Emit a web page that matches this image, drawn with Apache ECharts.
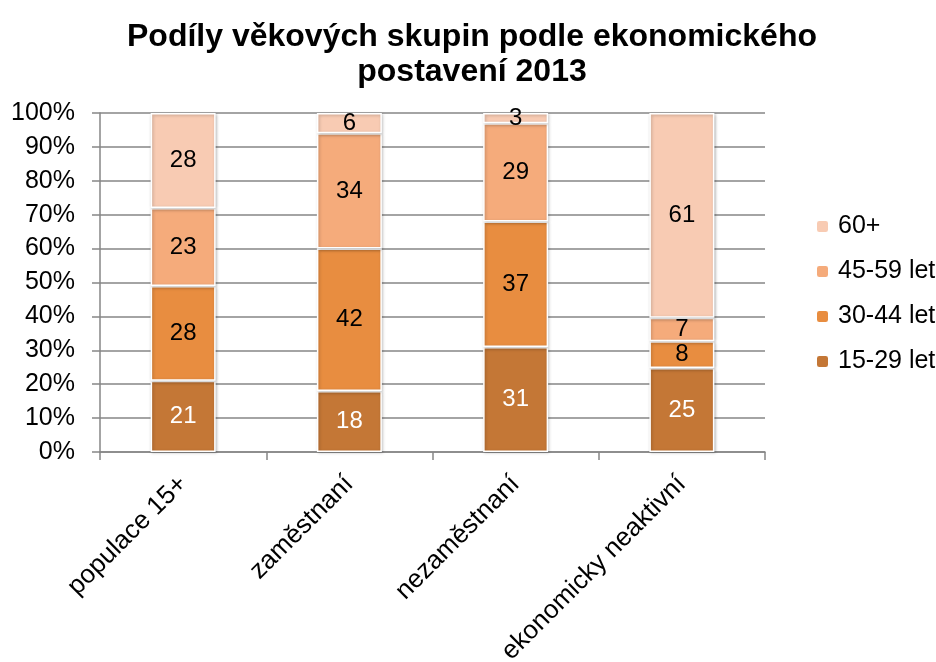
<!DOCTYPE html>
<html>
<head>
<meta charset="utf-8">
<script src="https://cdn.jsdelivr.net/npm/echarts@6/dist/echarts.min.js"></script>
<style>
  html, body { margin: 0; padding: 0; background: #fff; }
  #chart { width: 936px; height: 662px; }
</style>
</head>
<body>
<div id="chart"></div>
<script>
var categories = ['populace 15+', 'zaměstnaní', 'nezaměstnaní', 'ekonomicky neaktivní'];
var names = ['15-29 let', '30-44 let', '45-59 let', '60+'];
var v1529 = [21, 18, 31, 25];
var v3044 = [28, 42, 37, 8];
var v4559 = [23, 34, 29, 7];
var v60 = [28, 6, 3, 61];
var yTicks = ['0%', '10%', '20%', '30%', '40%', '50%', '60%', '70%', '80%', '90%', '100%'];
var colors = ['#C47736', '#E88D40', '#F5AB7B', '#F8CBB3'];

var raw = [v1529, v3044, v4559, v60];
// 100% stacked: normalize every category to its total
var totals = categories.map(function (c, i) {
    return raw.reduce(function (s, arr) { return s + arr[i]; }, 0);
});

var myChart = echarts.init(document.getElementById('chart'));

var series = raw.map(function (arr, k) {
    return {
        name: names[k],
        type: 'bar',
        stack: 'total',
        barWidth: 65,
        itemStyle: {
            color: colors[k],
            borderColor: '#fff',
            borderWidth: 1.5,
            shadowColor: 'rgba(0,0,0,0.25)',
            shadowBlur: 3,
            shadowOffsetX: 1,
            shadowOffsetY: 1
        },
        label: {
            show: true,
            position: 'inside',
            fontFamily: 'Liberation Sans',
            fontSize: 24,
            color: k === 0 ? '#fff' : '#000',
            formatter: function (p) { return arr[p.dataIndex]; }
        },
        data: arr.map(function (v, i) { return v / totals[i] * 100; })
    };
});

option = {
    animation: false,
    title: {
        text: 'Podíly věkových skupin podle ekonomického\npostavení 2013',
        left: 467,
        textAlign: 'center',
        top: 15,
        textStyle: {
            fontFamily: 'Liberation Sans',
            fontSize: 32,
            fontWeight: 'bold',
            color: '#000',
            lineHeight: 35
        }
    },
    legend: {
        orient: 'vertical',
        left: 810,
        top: 209,
        itemWidth: 13,
        itemHeight: 13,
        itemGap: 20,
        data: names.slice().reverse(),
        textStyle: {
            fontFamily: 'Liberation Sans',
            fontSize: 25,
            color: '#000',
            padding: [0, 0, 0, 4]
        }
    },
    grid: {
        left: 100,
        right: 171,
        top: 113,
        bottom: 210,
        containLabel: false,
        outerBoundsMode: 'none'
    },
    yAxis: {
        type: 'value',
        min: 0,
        max: 100,
        interval: 10,
        axisLine: { show: true, lineStyle: { color: '#868686', width: 1.5 } },
        axisTick: { show: true, length: 8, lineStyle: { color: '#868686', width: 1.5 } },
        splitLine: { lineStyle: { color: '#868686', width: 1.5 } },
        axisLabel: {
            margin: 25,
            fontFamily: 'Liberation Sans',
            fontSize: 25,
            color: '#000',
            formatter: function (v) { return yTicks[Math.round(v / 10)]; }
        }
    },
    xAxis: {
        type: 'category',
        data: categories,
        axisLine: { lineStyle: { color: '#868686', width: 1.5 } },
        axisTick: { show: true, length: 8, lineStyle: { color: '#868686', width: 1.5 } },
        axisLabel: {
            rotate: 45,
            margin: 28,
            fontFamily: 'Liberation Sans',
            fontSize: 26,
            color: '#000'
        }
    },
    series: series
};
myChart.setOption(option);
</script>
</body>
</html>
